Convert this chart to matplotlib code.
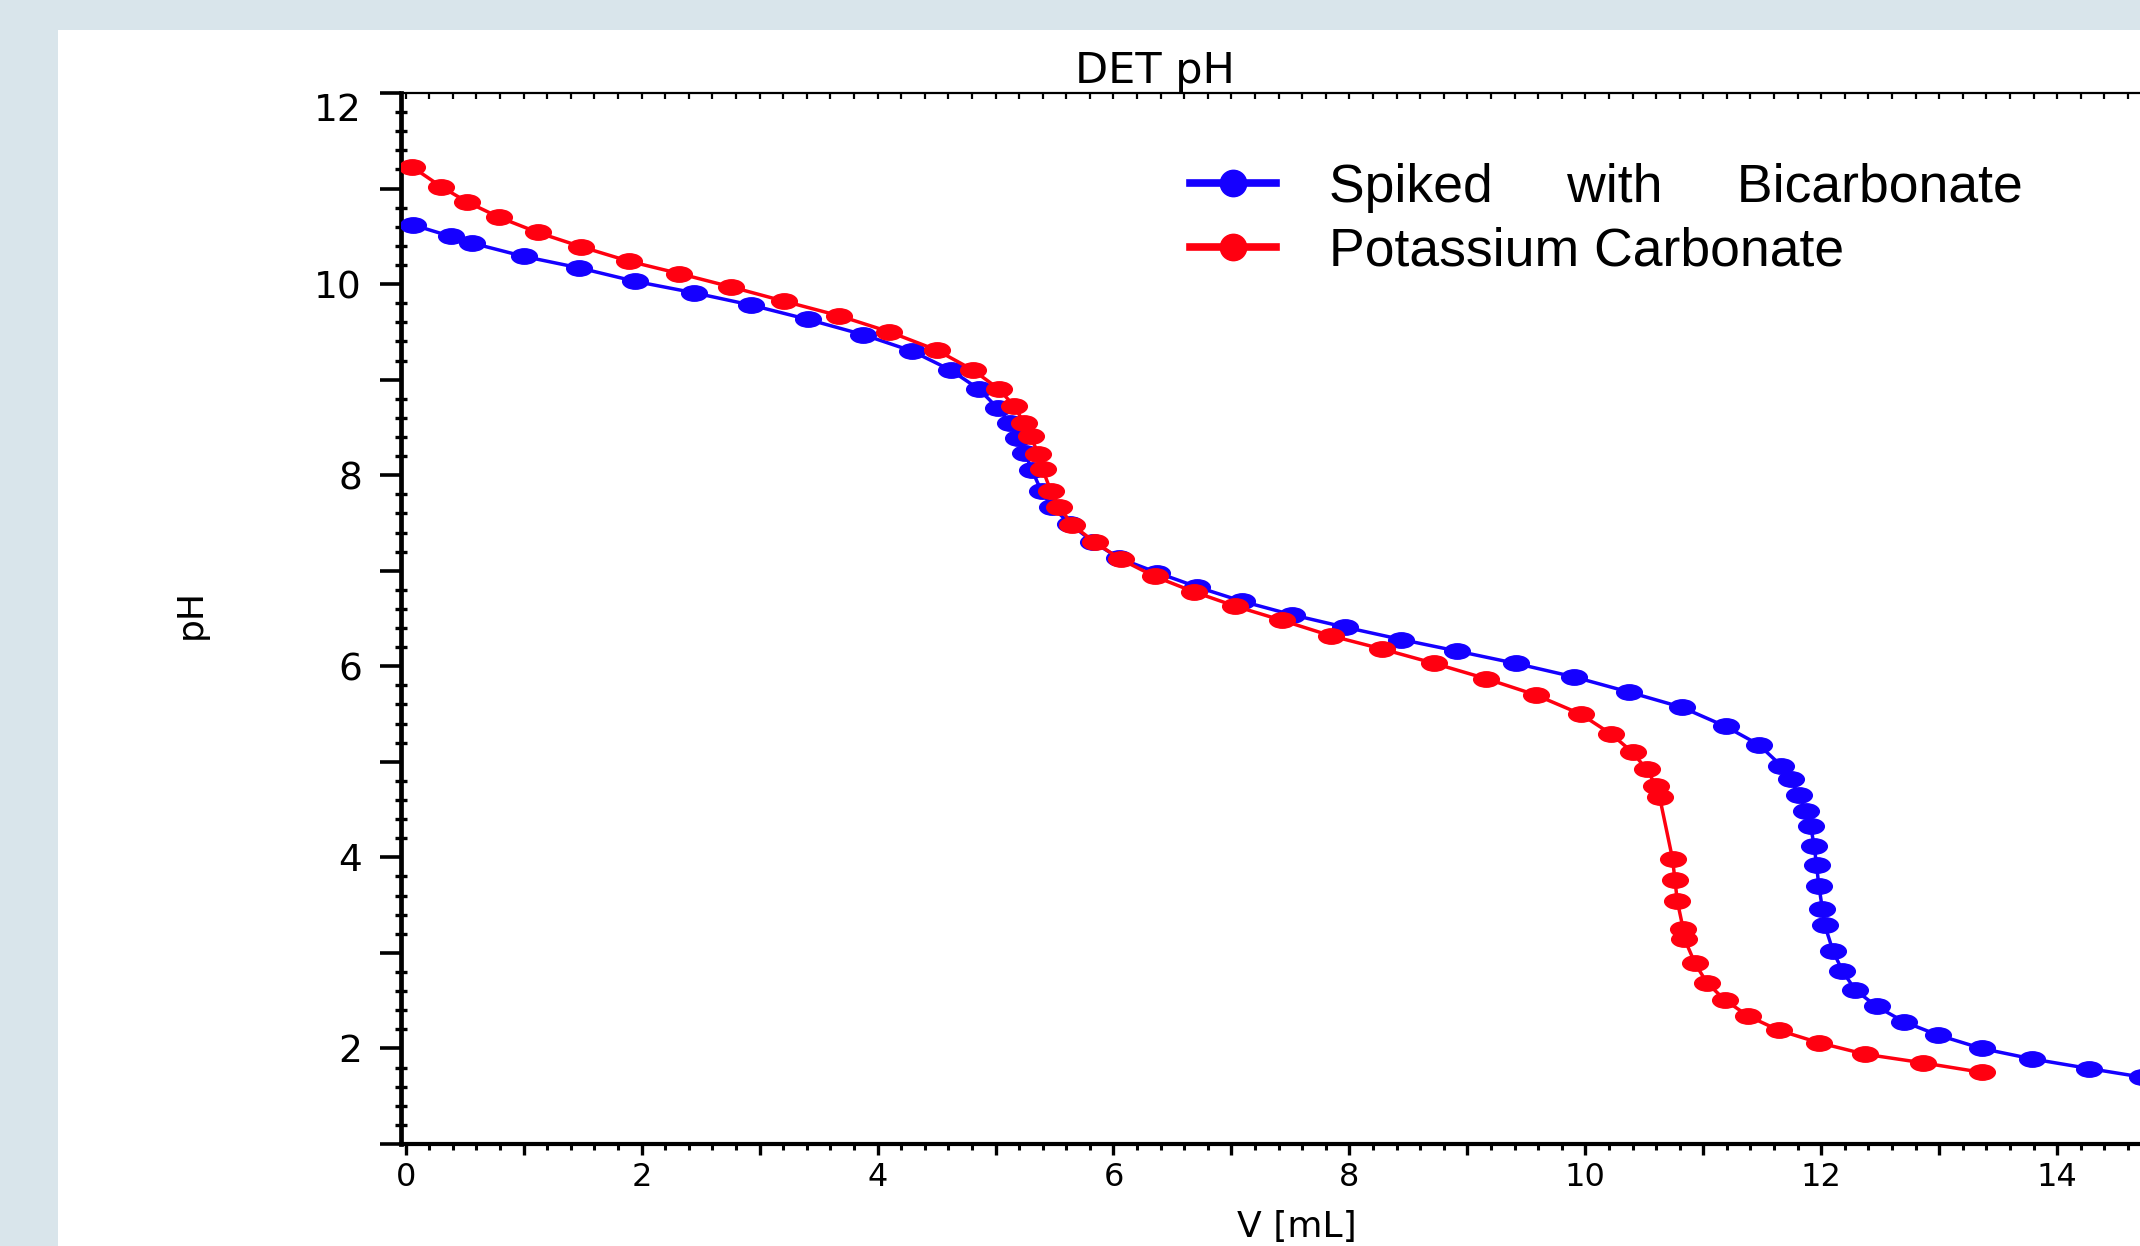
import matplotlib
matplotlib.use("Agg")
import matplotlib.pyplot as plt
from matplotlib.lines import Line2D
from matplotlib.patches import Rectangle
from matplotlib.path import Path
from matplotlib.transforms import Affine2D
from matplotlib.ticker import MultipleLocator, FuncFormatter

# titration data
BLUE_LABEL = "Spiked     with     Bicarbonate"
BLUE_V = [0.06, 0.38, 0.56, 1.00, 1.47, 1.94, 2.44, 2.93, 3.41, 3.88,
          4.29, 4.62, 4.86, 5.02, 5.12, 5.19, 5.25, 5.31, 5.39, 5.48,
          5.63, 5.83, 6.05, 6.37, 6.71, 7.09, 7.51, 7.96, 8.44, 8.91,
          9.41, 9.90, 10.37, 10.82, 11.19, 11.47, 11.66, 11.74, 11.81, 11.87,
          11.91, 11.94, 11.96, 11.98, 12.01, 12.03, 12.10, 12.18, 12.29, 12.47,
          12.70, 12.99, 13.36, 13.79, 14.27, 14.72]
BLUE_PH = [10.62, 10.50, 10.43, 10.29, 10.17, 10.03, 9.91, 9.78, 9.63, 9.47,
           9.30, 9.10, 8.90, 8.70, 8.55, 8.39, 8.23, 8.05, 7.83, 7.67,
           7.49, 7.30, 7.13, 6.98, 6.83, 6.68, 6.54, 6.41, 6.28, 6.16,
           6.03, 5.89, 5.73, 5.57, 5.37, 5.18, 4.96, 4.82, 4.65, 4.49,
           4.33, 4.12, 3.92, 3.70, 3.46, 3.29, 3.02, 2.81, 2.61, 2.44,
           2.28, 2.14, 2.00, 1.89, 1.79, 1.70]

RED_LABEL = "Potassium Carbonate"
RED_V = [0.05, 0.30, 0.52, 0.79, 1.12, 1.49, 1.89, 2.32, 2.76, 3.21,
         3.67, 4.10, 4.50, 4.81, 5.03, 5.16, 5.24, 5.30, 5.36, 5.40,
         5.47, 5.54, 5.65, 5.84, 6.06, 6.35, 6.68, 7.03, 7.43, 7.84,
         8.28, 8.72, 9.16, 9.58, 9.96, 10.22, 10.40, 10.52, 10.60, 10.63,
         10.74, 10.76, 10.78, 10.83, 10.84, 10.93, 11.03, 11.18, 11.38, 11.64,
         11.98, 12.37, 12.86, 13.36]
RED_PH = [11.23, 11.02, 10.86, 10.70, 10.54, 10.39, 10.24, 10.11, 9.97, 9.82,
          9.67, 9.50, 9.31, 9.10, 8.90, 8.72, 8.55, 8.41, 8.22, 8.06,
          7.83, 7.67, 7.48, 7.30, 7.12, 6.94, 6.78, 6.63, 6.48, 6.32,
          6.18, 6.03, 5.87, 5.70, 5.50, 5.29, 5.10, 4.92, 4.75, 4.63,
          3.98, 3.76, 3.54, 3.25, 3.15, 2.89, 2.69, 2.51, 2.34, 2.19,
          2.06, 1.94, 1.85, 1.75]

BLUE = "#1500ff"
RED = "#ff0010"
FRAME = "#d9e5eb"

W, H = 2140, 1246


def x_label(v, pos):
    n = int(round(v))
    # only even values, and nothing past the cropped right edge
    if n % 2 == 0 and n <= 14:
        return str(n)
    return ""


def main():
    fig = plt.figure(figsize=(W / 100, H / 100), dpi=100)
    fig.patch.set_facecolor(FRAME)
    # white page inside the light frame
    fig.add_artist(Rectangle((58 / W, 0), 1, 1 - 30 / H, transform=fig.transFigure,
                             facecolor="white", edgecolor="none", zorder=0))

    # axes run past the right edge of the picture (screenshot is cropped)
    x_min, x_max = -0.04, 16.0
    px_per_ml = 117.96
    ax = fig.add_axes([401 / W, (H - 1144) / H,
                       (x_max - x_min) * px_per_ml / W, (1144 - 93) / H])
    ax.set_facecolor("none")

    ell = Path.unit_circle().transformed(Affine2D().scale(1.0, 0.6))

    ax.plot(BLUE_V, BLUE_PH, color=BLUE, lw=2.5, marker=ell, ms=18.5, zorder=3)
    ax.plot(RED_V, RED_PH, color=RED, lw=2.5, marker=ell, ms=18.5, zorder=4)

    ax.set_xlim(x_min, x_max)
    ax.set_ylim(1, 12)

    # spines
    ax.spines["right"].set_visible(False)
    ax.spines["top"].set_visible(False)
    ax.spines["left"].set_linewidth(3.4)
    ax.spines["bottom"].set_linewidth(3.0)

    # x ticks: long every 1, labels every 2, short every 0.2
    ax.xaxis.set_major_locator(MultipleLocator(1))
    ax.xaxis.set_minor_locator(MultipleLocator(0.2))
    ax.xaxis.set_major_formatter(FuncFormatter(x_label))
    ax.tick_params(axis="x", which="major", direction="out", length=8, width=2.4,
                   labelsize=23, pad=5)
    ax.tick_params(axis="x", which="minor", direction="out", length=4.5, width=2.2)

    # y ticks
    ax.set_yticks(range(1, 13))
    ax.set_yticklabels([str(v) if v % 2 == 0 else "" for v in range(1, 13)])
    ax.yaxis.set_minor_locator(MultipleLocator(0.2))
    ax.tick_params(axis="y", which="major", direction="out", length=15, width=2.6,
                   labelsize=27, pad=13)
    ax.tick_params(axis="y", which="minor", direction="inout", length=9, width=2.4)
    ax.get_yticklabels()[-1].set_va("top")

    # thin top spine with small inward ticks
    top = ax.secondary_xaxis("top")
    top.spines["top"].set_linewidth(1.6)
    top.xaxis.set_major_locator(MultipleLocator(1))
    top.xaxis.set_minor_locator(MultipleLocator(0.2))
    top.tick_params(which="both", direction="in", length=4, width=1.6, labeltop=False)

    # texts
    fig.text(1155 / W, 1 - 71 / H, "DET pH", fontsize=31, ha="center", va="center")
    fig.text(1297 / W, 2 / H, "V [mL]", fontsize=26, ha="center", va="bottom")
    fig.text(191 / W, 1 - 614 / H, "pH", fontsize=26, rotation=90,
             ha="center", va="center")

    handles = [
        Line2D([], [], color=BLUE, lw=5.5, marker="o", ms=19),
        Line2D([], [], color=RED, lw=5.5, marker="o", ms=19),
    ]
    fig.legend(handles, [BLUE_LABEL, RED_LABEL], loc="upper left",
               bbox_to_anchor=(1190 / W, 1 - 163 / H), bbox_transform=fig.transFigure,
               frameon=False, prop={"family": "Liberation Sans", "size": 38.5},
               handlelength=1.6, handletextpad=1.0, labelspacing=0.25,
               borderpad=0, borderaxespad=0)

    fig.savefig("out.png", dpi=100, facecolor=fig.get_facecolor())


if __name__ == "__main__":
    main()
